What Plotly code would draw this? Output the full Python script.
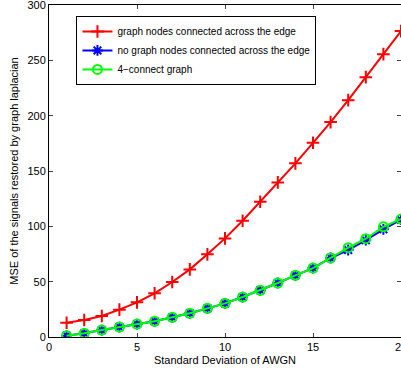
import plotly.graph_objects as go

x_vals = list(range(1, 21))
red_vals = [12.9, 15.4, 19.0, 24.7, 31.3, 39.5, 49.7, 61.1, 74.7, 89.1,
            105.1, 122.2, 139.7, 156.9, 175.5, 194.2, 214.0, 234.8, 255.6, 276.4]
blue_vals = [1.2, 3.3, 6.3, 9.0, 11.7, 14.2, 17.8, 21.4, 25.9, 30.4,
             36.1, 42.2, 48.8, 55.7, 62.3, 71.4, 78.6, 87.5, 97.3, 106.0]
green_vals = [1.2, 3.3, 6.3, 9.0, 11.7, 14.2, 17.8, 21.4, 25.9, 30.4,
              36.1, 42.2, 48.8, 55.7, 62.3, 71.4, 80.7, 88.8, 99.6, 106.6]
names = ["graph nodes connected across the edge",
         "no graph nodes connected across the edge",
         "4\u2212connect graph"]
x_ticks = [0, 5, 10, 15, 20]
y_ticks = [0, 50, 100, 150, 200, 250, 300]

fig = go.Figure()
fig.add_trace(go.Scatter(x=x_vals, y=red_vals, name=names[0], mode="lines+markers",
                         line=dict(color="#ff0000", width=2),
                         marker=dict(symbol="cross-thin", size=9, line=dict(color="#ff0000", width=2))))
fig.add_trace(go.Scatter(x=x_vals, y=blue_vals, name=names[1], mode="lines+markers",
                         line=dict(color="#0000ff", width=2),
                         marker=dict(symbol="asterisk-open", size=9, line=dict(color="#0000ff", width=2))))
fig.add_trace(go.Scatter(x=x_vals, y=green_vals, name=names[2], mode="lines+markers",
                         line=dict(color="#00ff00", width=2),
                         marker=dict(symbol="circle-open", size=9, line=dict(color="#00ff00", width=2))))

font = dict(family="Liberation Sans, Arial, sans-serif", size=11, color="#000000")
legend_font = dict(family="Liberation Sans, Arial, sans-serif", size=10, color="#000000")
fig.update_layout(
    width=401, height=371,
    margin=dict(l=49, r=0, t=5, b=34, autoexpand=False),
    paper_bgcolor="white", plot_bgcolor="white",
    font=font,
    showlegend=True,
    legend=dict(x=0.078, y=0.967, xanchor="left", yanchor="top",
                bordercolor="#000000", borderwidth=1, bgcolor="white",
                font=legend_font, tracegroupgap=0, itemwidth=30),
    xaxis=dict(range=[0, 20], tickvals=x_ticks, ticks="inside", ticklen=4,
               ticklabeloverflow="allow", automargin=False,
               showgrid=False, zeroline=False, showline=True, linecolor="#000000",
               linewidth=1, mirror="ticks",
               title=dict(text="Standard Deviation of AWGN", standoff=4, font=font)),
    yaxis=dict(range=[0, 300], tickvals=y_ticks, ticks="inside", ticklen=4,
               ticklabeloverflow="allow", automargin=False,
               showgrid=False, zeroline=False, showline=True, linecolor="#000000",
               linewidth=1, mirror="ticks",
               title=dict(text="MSE of the signals restored by graph laplacian", standoff=6, font=font)),
)
fig.write_html("out.html", config={"displayModeBar": False},
               post_script="document.body.style.margin='0';")
